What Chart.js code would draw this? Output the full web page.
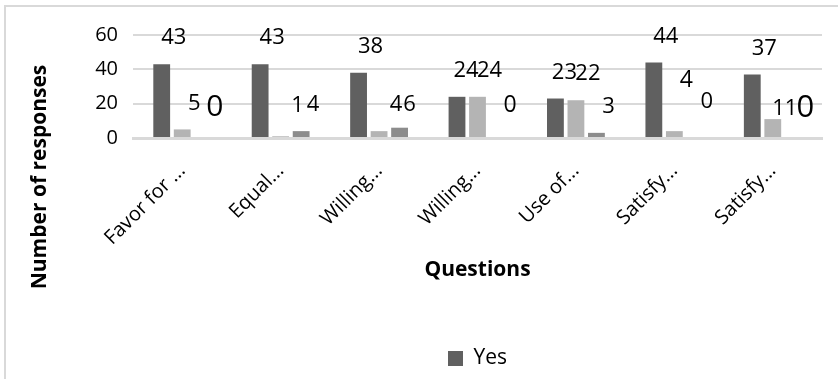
<!DOCTYPE html>
<html>
<head>
<meta charset="utf-8">
<script src="https://cdn.jsdelivr.net/npm/chart.js@4.4.0/dist/chart.umd.min.js"></script>
<style>
  html, body { margin: 0; padding: 0; background: #fff; }
  #wrap { width: 838px; height: 379px; }
</style>
</head>
<body>
<div id="wrap"><canvas id="responsesChart" width="838" height="379"></canvas></div>
<script>
// questions, shortened the way the axis shows them
var questions = ['Favor for ...', 'Equal...', 'Willing...', 'Willing...', 'Use of...', 'Satisfy...', 'Satisfy...'];
var seriesNames = ['Yes', 'No', 'Not sure'];
var yesCounts = [43, 43, 38, 24, 23, 44, 37];
var noCounts = [5, 1, 4, 24, 22, 4, 11];
var notSureCounts = [0, 4, 6, 0, 3, 0, 0];
var yTicks = [0, 20, 40, 60];

var FONT = '"Open Sans", "DejaVu Sans", sans-serif';
Chart.defaults.font.family = FONT;
Chart.defaults.color = '#000';

// grey frame along the left and top edge
var frame = {
   id: 'frame',
   beforeDraw: function(chart) {
      var ctx = chart.ctx;
      ctx.save();
      ctx.strokeStyle = '#d9d9d9';
      ctx.lineWidth = 2;
      ctx.beginPath();
      ctx.moveTo(5, chart.height);
      ctx.lineTo(5, 6);
      ctx.lineTo(chart.width, 6);
      ctx.stroke();
      ctx.restore();
   }
};

// y axis title, centred on the whole chart height rather than the plot
var yTitle = {
   id: 'yTitle',
   afterDraw: function(chart, args, opts) {
      var ctx = chart.ctx;
      ctx.save();
      ctx.translate(opts.x, opts.y);
      ctx.rotate(-Math.PI / 2);
      ctx.font = 'bold 21px ' + FONT;
      ctx.fillStyle = '#000';
      ctx.textAlign = 'center';
      ctx.textBaseline = 'middle';
      ctx.fillText(opts.text, 0, 0);
      ctx.restore();
   }
};

// value above each bar, a little to the right; a few labels are moved by hand
var valueLabels = {
   id: 'valueLabels',
   afterDatasetsDraw: function(chart, args, opts) {
      var ctx = chart.ctx;
      var yScale = chart.scales.y;
      ctx.save();
      ctx.fillStyle = '#000';
      ctx.textAlign = 'center';
      ctx.textBaseline = 'middle';
      chart.data.datasets.forEach(function(ds, d) {
         var meta = chart.getDatasetMeta(d);
         meta.data.forEach(function(bar, i) {
            var value = ds.data[i];
            var tweak = opts.tweaks[d + ':' + i] || {};
            ctx.font = (tweak.size || opts.size) + 'px ' + FONT;
            var x = bar.x + opts.dx + (tweak.dx || 0);
            var y = yScale.getPixelForValue(value) - opts.dy + (tweak.dy || 0);
            ctx.fillText(String(value), x, y);
         });
      });
      ctx.restore();
   }
};

var ctx = document.getElementById('responsesChart').getContext('2d');
new Chart(ctx, {
   type: 'bar',
   data: {
      labels: questions,
      datasets: [
         { label: seriesNames[0], data: yesCounts, backgroundColor: '#606060' },
         { label: seriesNames[1], data: noCounts, backgroundColor: '#b4b4b4' },
         { label: seriesNames[2], data: notSureCounts, backgroundColor: '#8c8c8c' }
      ]
   },
   options: {
      responsive: false,
      animation: false,
      layout: { padding: { top: 35, right: 16, left: 0, bottom: 0 } },
      datasets: { bar: { categoryPercentage: 0.625, barPercentage: 0.82 } },
      plugins: {
         legend: {
            position: 'bottom',
            fullSize: false,
            labels: {
               boxWidth: 15,
               boxHeight: 15,
               padding: 10,
               color: '#000',
               font: { size: 21 },
               filter: function(item) { return item.datasetIndex === 0; }
            }
         },
         tooltip: { enabled: false },
         yTitle: { text: 'Number of responses', x: 40, y: 177 },
         valueLabels: {
            size: 22,
            dx: 12,
            dy: 26,
            tweaks: {
               '0:3': { dx: -3 },
               '0:4': { dx: -3 },
               '1:1': { dx: 5, dy: -5 },
               '1:2': { dx: 5 },
               '1:5': { size: 23, dy: -25 },
               '1:6': { dy: 16 },
               '2:0': { size: 30, dy: -5 },
               '2:2': { dx: -2, dy: 3 },
               '2:3': { size: 23, dy: -7 },
               '2:5': { dy: -10 },
               '2:6': { size: 31, dy: -4 }
            }
         }
      },
      scales: {
         x: {
            grid: { display: false },
            border: { display: true, color: '#d9d9d9', width: 3 },
            ticks: {
               minRotation: 45,
               maxRotation: 45,
               autoSkip: false,
               padding: 13,
               color: '#000',
               font: { size: 20 }
            },
            title: {
               display: true,
               text: 'Questions',
               color: '#000',
               font: { size: 21, weight: 'bold' },
               padding: { top: 0, bottom: 55 }
            },
            afterFit: function(scale) { scale.height = 200; }
         },
         y: {
            min: 0,
            max: 60,
            grid: { color: '#d9d9d9', lineWidth: 2, drawTicks: false },
            border: { display: false },
            ticks: { padding: 15, color: '#000', font: { size: 20 } },
            afterBuildTicks: function(scale) {
               scale.ticks = yTicks.map(function(v) { return { value: v }; });
            },
            afterFit: function(scale) { scale.width = 133; }
         }
      }
   },
   plugins: [frame, yTitle, valueLabels]
});
</script>
</body>
</html>
